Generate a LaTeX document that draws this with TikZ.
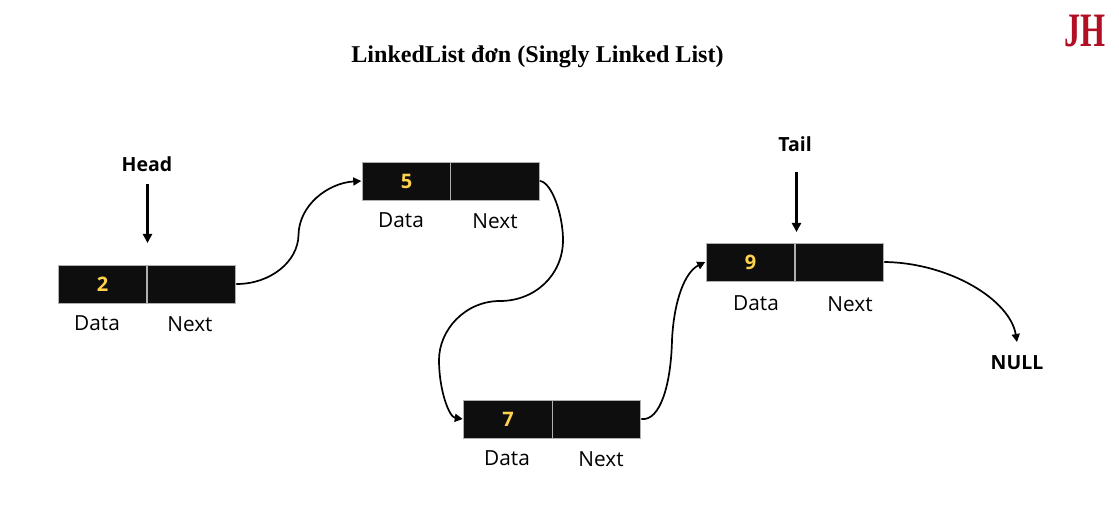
\documentclass[tikz,border=0pt]{standalone}
\usepackage{fontspec}
\setmainfont{Open Sans}
\newfontfamily\serifbf{Liberation Serif}[Scale=1]
\usetikzlibrary{arrows.meta}
\definecolor{cellblack}{HTML}{0E0E0E}
\definecolor{cellline}{HTML}{B0B0B0}
\definecolor{numyellow}{HTML}{FFD24D}
\definecolor{logored}{HTML}{B20F24}
\tikzset{
  cell/.style={fill=cellblack,draw=cellline,line width=0.6pt,minimum width=88.5pt,minimum height=38pt,inner sep=0pt,outer sep=0pt,text=numyellow,font=\fontsize{20}{20}\selectfont\bfseries},
  lbl/.style={font=\fontsize{20.8}{21}\selectfont,text=black,inner sep=0pt},
  blbl/.style={font=\fontsize{19.5}{20}\selectfont\bfseries,text=black,inner sep=0pt},
  straight/.style={line width=2.3pt,-{Triangle[length=9pt,width=9pt]},black},
  curve/.style={line width=1.7pt,-{Triangle[length=8pt,width=8pt]},black,line cap=round},
}
\begin{document}
\begin{tikzpicture}[x=1pt,y=-1pt]
\useasboundingbox (0,0) rectangle (1119,513);
\fill[white] (0,0) rectangle (1119,513);
\node[font=\serifbf\fontsize{24.1}{25}\selectfont\bfseries,inner sep=0pt] (title) at (537.5,56.5) {LinkedList đơn (Singly Linked List)};
\node[font=\serifbf\fontsize{48}{48}\selectfont\bfseries,text=logored,draw=logored,line width=0.5pt,draw opacity=0,inner sep=0pt,xscale=0.67] (logo) at (1085,31.5) {JH};

\node[cell] (a1) at (102.5,284) {2};
\node[cell] (a2) at (191.5,284) {};
\node[cell] (b1) at (406.5,181) {5};
\node[cell] (b2) at (495,181) {};
\node[cell] (c1) at (508,419) {7};
\node[cell] (c2) at (596.5,419) {};
\node[cell] (d1) at (750.5,262) {9};
\node[cell] (d2) at (839.5,262) {};

\node[lbl] (a1l) at (97,323) {Data};
\node[lbl] (a2l) at (190,324.5) {Next};
\node[lbl] (b1l) at (401,220.5) {Data};
\node[lbl] (b2l) at (495,221.5) {Next};
\node[lbl] (c1l) at (507,458.5) {Data};
\node[lbl] (c2l) at (601,459.5) {Next};
\node[lbl] (d1l) at (756,303.5) {Data};
\node[lbl] (d2l) at (850,304.5) {Next};

\node[blbl] (head) at (147,164) {Head};
\node[blbl] (tail) at (795,144) {Tail};
\node[blbl] (null) at (1017,362.5) {NULL};

\coordinate (headend) at (147.5,243);
\coordinate (headstart) at (147.5,184);
\coordinate (tailstart) at (796.5,172);
\coordinate (tailend) at (796.5,232);
\coordinate (nullend) at (1017,342);
\draw[straight] (headstart) -- (headend);
\draw[straight] (tailstart) -- (tailend);

\draw[curve] ([xshift=1pt]a2.east) .. controls (270,284) and (298,262) .. (298.5,235)
  .. controls (299,205) and (328,183) .. ([xshift=-1pt]b1.west);
\draw[curve] ([xshift=1pt]b2.east) .. controls (552,183) and (563,215) .. (563,240)
  .. controls (563,275) and (535,301) .. (500,301)
  .. controls (465,301) and (439,330) .. (439,360)
  .. controls (439,390) and (449,417) .. ([xshift=-1pt]c1.west);
\draw[curve] ([xshift=1pt]c2.east) .. controls (660,421) and (671,385) .. (672,340)
  .. controls (674,300) and (685,272) .. ([xshift=-1pt]d1.west);
\draw[curve] ([xshift=1pt]d2.east) .. controls (950,263) and (1010,300) .. (nullend);
\end{tikzpicture}
\end{document}
